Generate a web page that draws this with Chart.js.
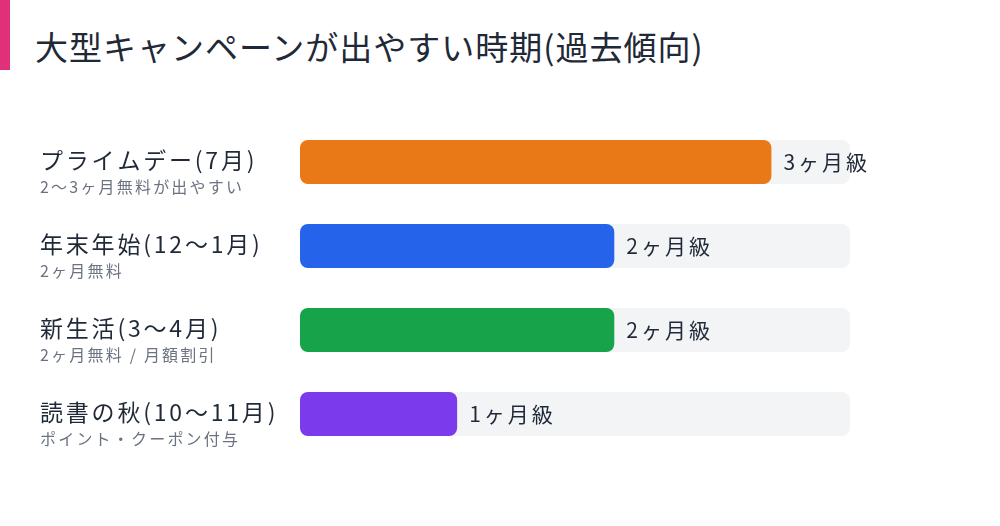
<!DOCTYPE html>
<html>
<head>
<meta charset="utf-8">
<script src="https://cdn.jsdelivr.net/npm/chart.js@4.4.1/dist/chart.umd.min.js"></script>
<style>
  html, body { margin: 0; padding: 0; background: #ffffff; }
  body { width: 1000px; height: 526px; position: relative; overflow: hidden; font-family: "Noto Sans CJK JP", "Noto Sans", sans-serif; }
  .accent { position: absolute; left: 0; top: 0; width: 10px; height: 70px; background: #e0307a; }
  .title { position: absolute; left: 35px; top: 24px; font-size: 33px; letter-spacing: 1px; color: #1f2937; line-height: 44px; white-space: nowrap; }
  .chart-box { position: absolute; left: 0; top: 0; width: 1000px; height: 526px; }
</style>
</head>
<body>
<div class="accent"></div>
<div class="title">大型キャンペーンが出やすい時期(過去傾向)</div>
<div class="chart-box"><canvas id="campaignChart"></canvas></div>
<script>
// campaign periods (rows top to bottom)
const periods = ["プライムデー(7月)", "年末年始(12〜1月)", "新生活(3〜4月)", "読書の秋(10〜11月)"];
const notes = ["2〜3ヶ月無料が出やすい", "2ヶ月無料", "2ヶ月無料 / 月額割引", "ポイント・クーポン付与"];
const months = [3, 2, 2, 1];
const valueLabels = ["3ヶ月級", "2ヶ月級", "2ヶ月級", "1ヶ月級"];
const trackMax = [3.5, 3.5, 3.5, 3.5];
const barColors = ["#e97817", "#2563eb", "#16a34a", "#7c3aed"];

const FONT = '"Noto Sans CJK JP", "Noto Sans", sans-serif';

// draws row labels on the left and value labels after each bar
const labelPlugin = {
  id: "rowLabels",
  afterDatasetsDraw(chart) {
    const ctx = chart.ctx;
    const x = chart.scales.x;
    const y = chart.scales.y;
    ctx.save();
    ctx.textBaseline = "middle";
    ctx.textAlign = "left";
    periods.forEach((name, i) => {
      const cy = y.getPixelForValue(i);
      ctx.fillStyle = "#1f2937";
      ctx.font = "23px " + FONT;
      ctx.letterSpacing = "2.8px";
      ctx.fillText(name, 40, cy - 2);
      ctx.fillStyle = "#6b7280";
      ctx.font = "16px " + FONT;
      ctx.letterSpacing = "2.2px";
      ctx.fillText(notes[i], 40, cy + 25);
      ctx.fillStyle = "#1f2937";
      ctx.font = "21px " + FONT;
      ctx.letterSpacing = "3px";
      ctx.fillText(valueLabels[i], x.getPixelForValue(months[i]) + 12, cy);
    });
    ctx.restore();
  },
};

new Chart(document.getElementById("campaignChart"), {
  type: "bar",
  data: {
    labels: periods,
    datasets: [
      {
        label: "months",
        data: months,
        backgroundColor: barColors,
        borderRadius: 8,
        borderSkipped: false,
        order: 1,
      },
      {
        label: "track",
        data: trackMax,
        backgroundColor: "#f3f4f6",
        borderRadius: 8,
        borderSkipped: false,
        order: 2,
      },
    ],
  },
  options: {
    indexAxis: "y",
    responsive: true,
    maintainAspectRatio: false,
    animation: false,
    layout: { padding: { left: 300, right: 150, top: 120, bottom: 70 } },
    datasets: {
      bar: { grouped: false, barPercentage: 1, categoryPercentage: 44 / 84 },
    },
    plugins: { legend: { display: false }, tooltip: { enabled: false } },
    scales: {
      x: { display: false, min: 0, max: 3.5 },
      y: { display: false },
    },
  },
  plugins: [labelPlugin],
});
</script>
</body>
</html>
